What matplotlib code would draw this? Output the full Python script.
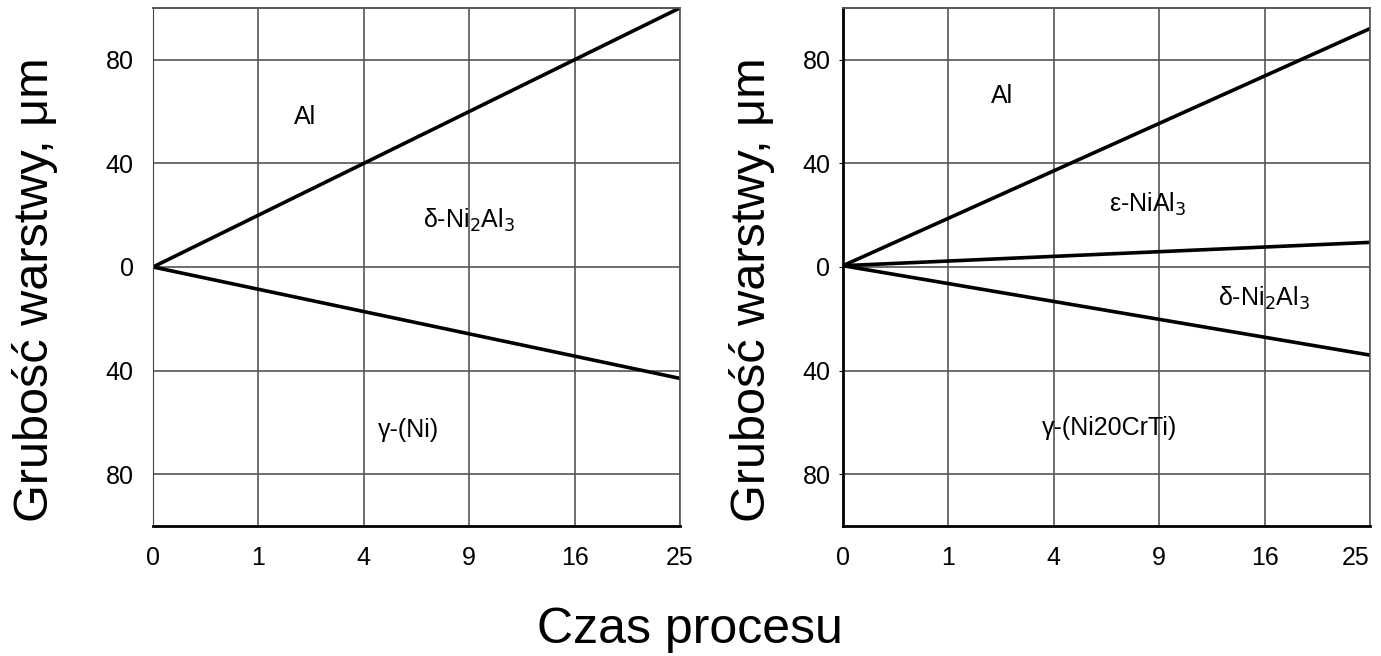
import matplotlib.pyplot as plt
import numpy as np

plt.rcParams['font.family'] = ['Liberation Sans', 'DejaVu Sans']

# x axis: sqrt(time) positions, labelled with time
x_pos = [0, 1, 2, 3, 4, 5]
x_labels = ['0', '1', '4', '9', '16', '25']
y_pos = [-80, -40, 0, 40, 80]
y_labels = ['80', '40', '0', '40', '80']

# boundary lines: start (x=0) and end (x=5) values
left_x = [0, 5]
left_bounds = [[0, 100], [0, -43]]
right_x = [0, 5]
right_bounds = [[0.5, 92], [0.5, 9.5], [0.5, -34]]

left_texts = [(1.44, 58, 'Al'), (3.0, 18, r'δ-Ni$_2$Al$_3$'), (2.42, -63, 'γ-(Ni)')]
right_texts = [(1.51, 66, 'Al'), (2.89, 24, r'ε-NiAl$_3$'),
               (4.0, -12, r'δ-Ni$_2$Al$_3$'), (2.53, -62, 'γ-(Ni20CrTi)')]

W, H = 1381, 656
fig = plt.figure(figsize=(W / 100, H / 100), dpi=100)
ax1 = fig.add_axes([0.1108, 0.198, 0.3816, 0.790])
ax2 = fig.add_axes([0.6104, 0.198, 0.3816, 0.790])


def setup(ax, bounds, xs, texts, ticklen, ypad):
    ax.set_xlim(0, 5)
    ax.set_ylim(-100, 100)
    ax.set_xticks(x_pos)
    ax.set_xticklabels(x_labels, fontsize=18)
    ax.set_yticks(y_pos)
    ax.set_yticklabels(y_labels, fontsize=18)
    ax.tick_params(axis='x', length=0, pad=14)
    ax.tick_params(axis='y', length=ticklen, pad=ypad)
    ax.grid(True, color='#555555', linewidth=1.2)
    ax.axhline(100, color='#555555', linewidth=1.2, clip_on=False)
    for s in ['top', 'right']:
        ax.spines[s].set_color('#555555')
        ax.spines[s].set_linewidth(1.2)
    ax.spines['left'].set_color('#444444')
    ax.spines['bottom'].set_linewidth(2)
    for b in bounds:
        ax.plot(xs, b, color='black', linewidth=2.6, solid_capstyle='round')
    for x, y, t in texts:
        ax.text(x, y, t, fontsize=18, ha='center', va='center')


setup(ax1, left_bounds, left_x, left_texts, 0, 14)
setup(ax2, right_bounds, right_x, right_texts, 3, 6)
ax2.spines['left'].set_linewidth(2)
ax2.spines['left'].set_color('black')
# keep the last label inside the picture
ax2.get_xticklabels()[-1].set_horizontalalignment('right')

fig.text(35 / W, 1 - 290 / H, 'Grubość warstwy, μm', fontsize=35,
         rotation=90, ha='center', va='center')
fig.text(752 / W, 1 - 290 / H, 'Grubość warstwy, μm', fontsize=35,
         rotation=90, ha='center', va='center')
fig.text(690 / W, 1 - 630 / H, 'Czas procesu', fontsize=36,
         ha='center', va='center')

fig.savefig('out.png', dpi=100)
